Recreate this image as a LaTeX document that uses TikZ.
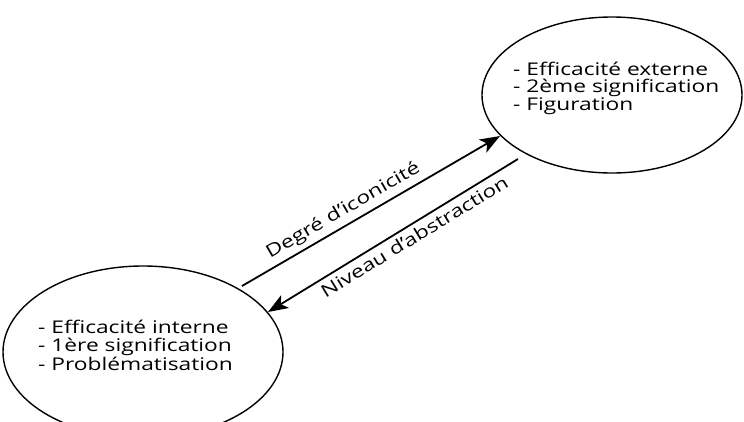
\documentclass[tikz,border=0pt]{standalone}
\usepackage{fontspec}
\setmainfont{Open Sans}[FakeStretch=1.3]
\usetikzlibrary{shapes.geometric,arrows.meta}
\begin{document}
\begin{tikzpicture}[x=1pt,y=-1pt,
  pole/.style={draw, ellipse, line width=1.4pt, inner sep=0pt},
  items/.style={align=left, anchor=base west, font=\fontsize{17.5}{17.5}\selectfont, inner sep=0pt},
  flow/.style={line width=1.8pt, -{Stealth[length=20pt,width=15pt,inset=5pt]}},
  tag/.style={font=\fontsize{17.5}{18}\selectfont, inner sep=0pt, sloped}]
  \useasboundingbox (0,0) rectangle (744,421);
  % the two poles
  \node[pole, minimum width=280pt, minimum height=172pt] (L) at (143,352) {};
  \node[pole, minimum width=260pt, minimum height=156pt] (R) at (612,95) {};
  % item lists (anchored on the baseline of their last line)
  \node[items] (Ltxt) at (38,370) {- Efficacité interne\\- 1ère signification\\- Problématisation};
  \node[items] (Rtxt) at (513,110) {- Efficacité externe\\- 2ème signification\\- Figuration};
  % arrow ends
  \coordinate (a1) at (242,286);
  \coordinate (a2) at (500,136);
  \coordinate (b1) at (518,159);
  \coordinate (b2) at (268,312);
  \draw[flow] (a1) -- (a2);
  \draw[flow] (b1) -- (b2);
  \path (a1) -- node[tag, pos=0.42, above=5pt] (t1) {Degré d’iconicité} (a2);
  \path (b2) -- node[tag, pos=0.56, below=5pt] (t2) {Niveau d’abstraction} (b1);
\end{tikzpicture}
\end{document}
